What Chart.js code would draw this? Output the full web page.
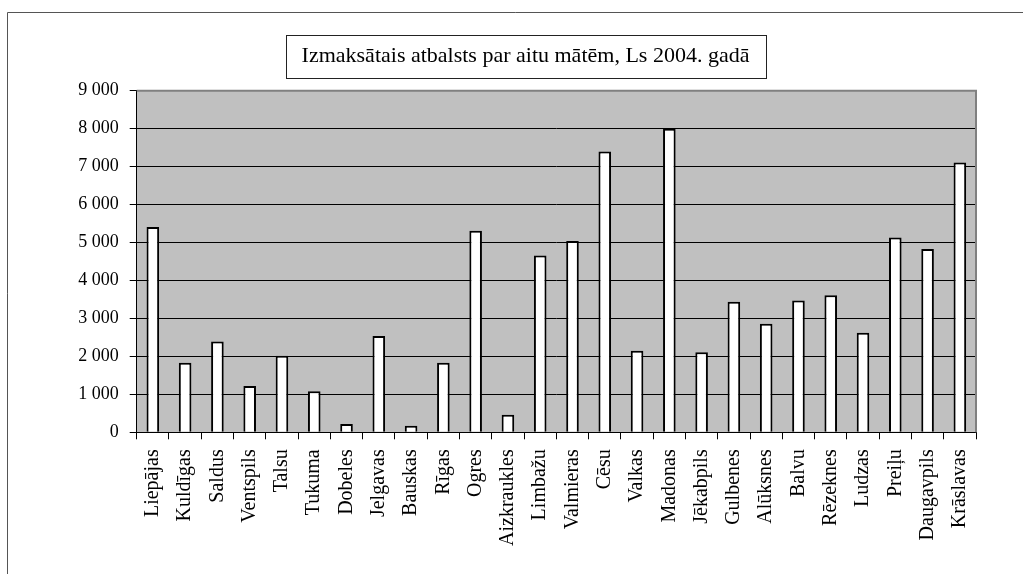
<!DOCTYPE html>
<html>
<head>
<meta charset="utf-8">
<script src="https://cdn.jsdelivr.net/npm/chart.js@4.4.0/dist/chart.umd.min.js"></script>
<style>
html, body { margin: 0; padding: 0; background: #fff; }
#wrap { position: relative; width: 1023px; height: 574px; }
</style>
</head>
<body>
<div id="wrap"><canvas id="aitas-Chart"></canvas></div>
<script>
const labels = ["Liepājas", "Kuldīgas", "Saldus", "Ventspils", "Talsu", "Tukuma", "Dobeles",
    "Jelgavas", "Bauskas", "Rīgas", "Ogres", "Aizkraukles", "Limbažu", "Valmieras", "Cēsu",
    "Valkas", "Madonas", "Jēkabpils", "Gulbenes", "Alūksnes", "Balvu", "Rēzeknes", "Ludzas",
    "Preiļu", "Daugavpils", "Krāslavas"];

const atbalsts = [5410, 1830, 2390, 1220, 2020, 1080, 220, 2540, 170, 1830, 5310, 460, 4660,
    5040, 7400, 2150, 8000, 2110, 3440, 2860, 3470, 3610, 2620, 5130, 4830, 7110];

const virsraksts = "Izmaksātais atbalsts par aitu mātēm, Ls 2004. gadā";
const yMax = 9000;
const ySolis = 1000;

Chart.defaults.font.family = "'Liberation Serif', 'Times New Roman', serif";
Chart.defaults.color = "#000";

const TITLE_TOP = 42.8, TITLE_LH = 26.4;

const ramis = {
    id: "ramis",
    beforeDraw(chart) {
        const ctx = chart.ctx, a = chart.chartArea;
        ctx.save();
        ctx.fillStyle = "#fff";
        ctx.fillRect(0, 0, chart.width, chart.height);
        ctx.strokeStyle = "#555";
        ctx.lineWidth = 1;
        ctx.beginPath();
        ctx.moveTo(7.5, chart.height);
        ctx.lineTo(7.5, 12.5);
        ctx.lineTo(chart.width, 12.5);
        ctx.stroke();
        ctx.fillStyle = "#c0c0c0";
        ctx.fillRect(a.left, a.top, a.right - a.left, a.bottom - a.top);
        ctx.restore();
    },
    afterDraw(chart) {
        const ctx = chart.ctx, a = chart.chartArea, t = chart.titleBlock;
        ctx.save();
        // pelēkā rāmja augša un labā mala
        ctx.strokeStyle = "#808080";
        ctx.lineWidth = 2;
        ctx.beginPath();
        ctx.moveTo(a.left, a.top);
        ctx.lineTo(a.right, a.top);
        ctx.lineTo(a.right, a.bottom);
        ctx.stroke();
        // virsraksta kaste
        ctx.font = "22px 'Liberation Serif'";
        const w = ctx.measureText(virsraksts).width;
        const cx = (t.left + t.right) / 2;
        const cy = t.top + TITLE_TOP + TITLE_LH / 2;
        ctx.strokeStyle = "#222";
        ctx.lineWidth = 1;
        ctx.strokeRect(Math.round(cx - w / 2 - 16) + 0.5, Math.round(cy - 21.5) + 0.5,
            Math.round(w + 32), 43);
        ctx.restore();
    }
};

const data = {
    labels: labels,
    datasets: [
        {
            label: "Atbalsts",
            data: atbalsts,
            backgroundColor: "#ffffff",
            borderColor: "#000000",
            borderWidth: 2,
            barPercentage: 0.39,
            categoryPercentage: 1.0
        }
    ]
};

const config = {
    type: "bar",
    data: data,
    options: {
        responsive: true,
        maintainAspectRatio: false,
        animation: false,
        layout: { padding: { left: 75, right: 47, top: 0, bottom: 0 } },
        plugins: {
            legend: { display: false },
            tooltip: { enabled: false },
            title: {
                display: true,
                text: virsraksts,
                color: "#000",
                font: { size: 22, weight: "normal", lineHeight: 1.2 },
                padding: { top: TITLE_TOP, bottom: 21.5 }
            }
        },
        scales: {
            x: {
                afterFit(scale) { scale.height = 141.7; },
                grid: { drawOnChartArea: false, color: "#000", tickLength: 7, offset: true },
                border: { color: "#000", width: 1 },
                ticks: {
                    autoSkip: false,
                    minRotation: 90,
                    maxRotation: 90,
                    padding: 10,
                    font: { size: 20 }
                }
            },
            y: {
                min: 0,
                max: yMax,
                afterFit(scale) { scale.width = 61.7; },
                grid: { color: "#000", lineWidth: 1, tickLength: 7 },
                border: { color: "#000", width: 1 },
                ticks: {
                    stepSize: ySolis,
                    padding: 11,
                    font: { size: 18 },
                    callback: v => String(v).replace(/\B(?=(\d{3})+(?!\d))/g, " ")
                }
            }
        }
    },
    plugins: [ramis]
};

const myChart = new Chart(document.getElementById("aitas-Chart"), config);
</script>
</body>
</html>
